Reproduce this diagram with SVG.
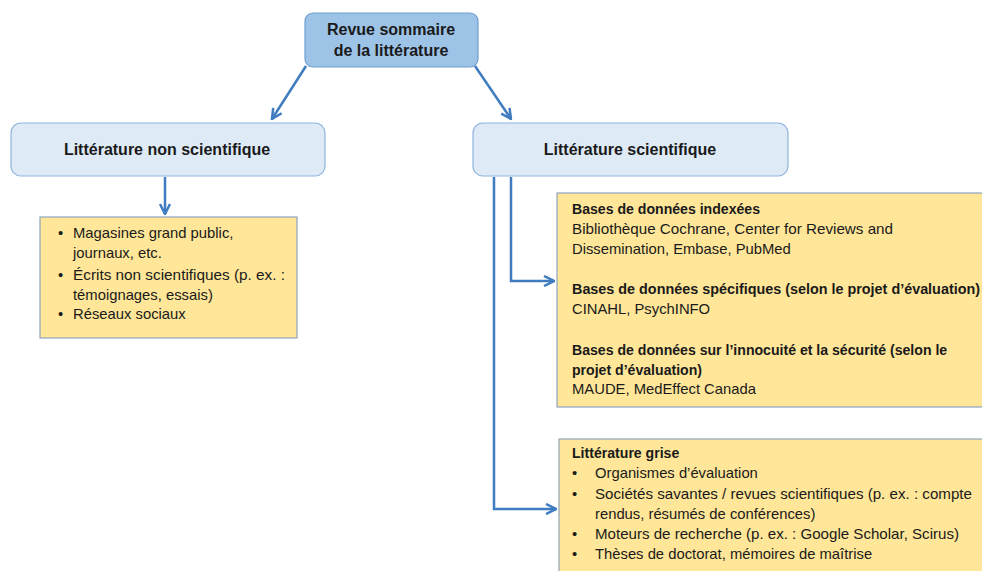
<svg xmlns="http://www.w3.org/2000/svg" width="982" height="571" viewBox="0 0 982 571">
<defs>
<marker id="arr" viewBox="0 0 10 10" refX="9" refY="5" markerWidth="5" markerHeight="5" orient="auto" markerUnits="strokeWidth">
<polyline points="1,1 9,5 1,9" fill="none" stroke="#3F7CC0" stroke-width="2"/>
</marker>
</defs>
<style>
text{font-family:"Liberation Sans",Arial,sans-serif;fill:#1a1a1a}
.t{font-size:16px;font-weight:bold;text-anchor:middle}
.s{font-size:14.8px}
.b{font-size:14.1px;font-weight:bold}
.top{fill:#9DC3E6;stroke:#6E9FD0;stroke-width:1.2}
.mid{fill:#DEEBF7;stroke:#8FB4DE;stroke-width:1.2}
.y{fill:#FFE699;stroke:#8EA4BE;stroke-width:1.2}
.c{fill:none;stroke:#3F7CC0;stroke-width:2.5;marker-end:url(#arr)}
</style>
<rect width="982" height="571" fill="#fff"/>
<g id="connectors">
<line class="c" x1="306" y1="66" x2="272" y2="119"/>
<line class="c" x1="475" y1="66" x2="511" y2="119"/>
<line class="c" x1="165" y1="177" x2="165" y2="214"/>
<polyline class="c" points="511,177 511,281 554,281"/>
<polyline class="c" points="494,177 494,509 556,509"/>
</g>
<g id="root">
<rect class="top" x="305" y="13" width="173" height="54" rx="8"/>
<text class="t" x="391" y="35">Revue sommaire</text>
<text class="t" x="391" y="56">de la littérature</text>
</g>
<g id="nonsci">
<rect class="mid" x="11" y="123" width="314" height="53" rx="10"/>
<text class="t" x="167" y="155">Littérature non scientifique</text>
</g>
<g id="sci">
<rect class="mid" x="473" y="123" width="315" height="53" rx="10"/>
<text class="t" x="630" y="155">Littérature scientifique</text>
</g>
<g id="nonsci-list">
<rect class="y" x="40" y="217" width="257" height="121"/>
<text class="s" x="58" y="238">•</text><text class="s" x="73" y="238">Magasines grand public,</text>
<text class="s" x="73" y="258">journaux, etc.</text>
<text class="s" x="58" y="280">•</text><text class="s" x="73" y="280" textLength="212" lengthAdjust="spacingAndGlyphs">Écrits non scientifiques (p. ex. :</text>
<text class="s" x="73" y="300">témoignages, essais)</text>
<text class="s" x="58" y="319">•</text><text class="s" x="73" y="319">Réseaux sociaux</text>
</g>
<g id="databases">
<rect class="y" x="557" y="193" width="430" height="214"/>
<text class="b" x="572" y="214">Bases de données indexées</text>
<text class="s" x="572" y="234" textLength="321" lengthAdjust="spacingAndGlyphs">Bibliothèque Cochrane, Center for Reviews and</text>
<text class="s" x="572" y="254">Dissemination, Embase, PubMed</text>
<text class="b" x="572" y="294" textLength="408" lengthAdjust="spacingAndGlyphs">Bases de données spécifiques (selon le projet d’évaluation)</text>
<text class="s" x="572" y="314">CINAHL, PsychINFO</text>
<text class="b" x="572" y="355">Bases de données sur l’innocuité et la sécurité (selon le</text>
<text class="b" x="572" y="375">projet d’évaluation)</text>
<text class="s" x="572" y="394">MAUDE, MedEffect Canada</text>
</g>
<g id="grey">
<rect class="y" x="559" y="439" width="430" height="140"/>
<text class="b" x="572" y="458">Littérature grise</text>
<text class="s" x="572" y="478">•</text><text class="s" x="595" y="478">Organismes d’évaluation</text>
<text class="s" x="572" y="499">•</text><text class="s" x="595" y="499" textLength="377" lengthAdjust="spacingAndGlyphs">Sociétés savantes / revues scientifiques (p. ex. : compte</text>
<text class="s" x="595" y="519">rendus, résumés de conférences)</text>
<text class="s" x="572" y="539">•</text><text class="s" x="595" y="539" textLength="364" lengthAdjust="spacingAndGlyphs">Moteurs de recherche (p. ex. : Google Scholar, Scirus)</text>
<text class="s" x="572" y="559">•</text><text class="s" x="595" y="559">Thèses de doctorat, mémoires de maîtrise</text>
</g>
</svg>
